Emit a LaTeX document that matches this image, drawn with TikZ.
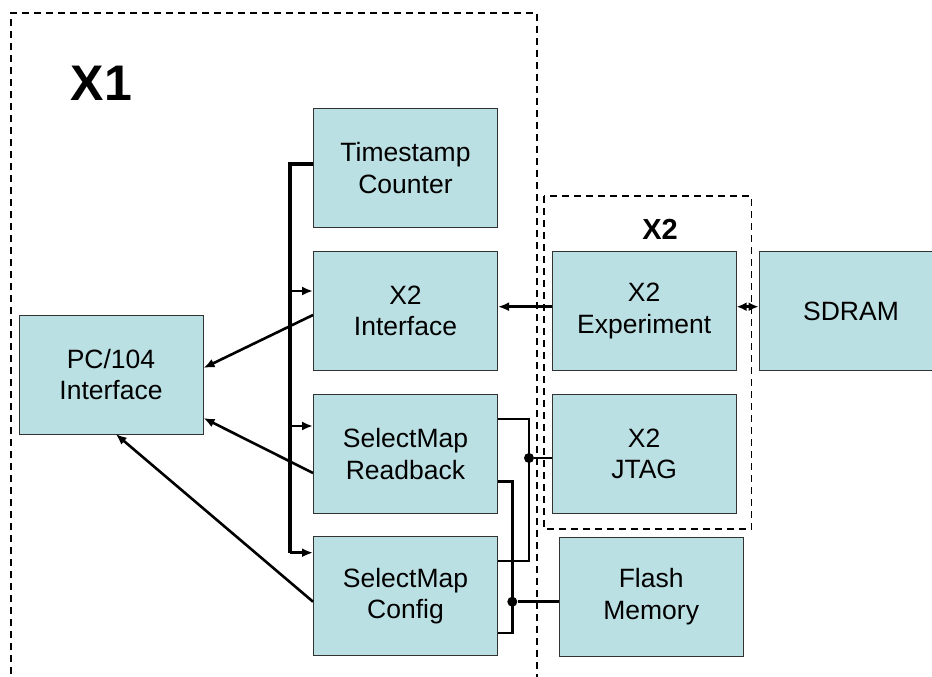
\documentclass[tikz,border=0pt]{standalone}
\usepackage{fontspec}
\setmainfont{Liberation Sans}
\usetikzlibrary{arrows.meta}
\definecolor{boxfill}{RGB}{187,224,227}
\definecolor{boxline}{RGB}{50,50,50}
\tikzset{
  blk/.style={draw=boxline, line width=1pt, fill=boxfill, minimum width=184pt, minimum height=119pt, inner sep=0pt, align=center, font=\fontsize{26.5}{31.5}\selectfont},
  grp/.style={draw=black, line width=1.6pt, dash pattern=on 7pt off 5pt},
  bus/.style={line width=4pt},
  wire/.style={line width=2.6pt},
  arr/.style={wire, -{Latex[length=11pt,width=9pt]}},
  darr/.style={wire, {Latex[length=10pt,width=9pt]}-{Latex[length=10pt,width=9pt]}},
  jdot/.style={circle, fill=black, inner sep=0pt, minimum size=10pt},
  ttl/.style={font=\bfseries\fontsize{50}{56}\selectfont},
  ttlb/.style={font=\bfseries\fontsize{29}{34}\selectfont},
}
\begin{document}
\begin{tikzpicture}[x=1pt,y=-1pt]
\useasboundingbox (0,0) rectangle (932,677);
% group boxes
\draw[grp] (11,710) -- (11,13) -- (537,13) -- (537,710);
\draw[grp] (544,196) rectangle (751.5,529);
\node[ttl] (x1lbl) at (101.5,83) {X1};
\node[ttlb] (x2lbl) at (660,229) {X2};
% blocks
\node[blk] (ts) at (405.5,167.8) {Timestamp\\Counter};
\node[blk] (x2i) at (405.5,311) {X2\\Interface};
\node[blk] (rb) at (405.5,453.8) {SelectMap\\Readback};
\node[blk] (cfg) at (405.5,596.3) {SelectMap\\Config};
\node[blk] (pc) at (111,374.5) {PC/104\\Interface};
\node[blk] (exp) at (644.2,311) {X2\\Experiment};
\node[blk] (jtag) at (644.2,453.8) {X2\\JTAG};
\node[blk] (flash) at (651.2,596.5) {Flash\\Memory};
\node[blk] (sdram) at (851,311) {SDRAM};
% bus
\coordinate (btop) at (290,164);
\coordinate (bbot) at (290,552.7);
\draw[bus] (ts.west |- btop) -- (btop) -- (bbot);
\draw[arr] (290,291) -- (x2i.west |- 0,291);
\draw[arr] (290,426) -- (rb.west |- 0,426);
\draw[arr] (bbot) -- (cfg.west |- bbot);
% to PC/104
\draw[arr] (x2i.west |- 0,315) -- (pc.east |- 0,368);
\draw[arr] (rb.west |- 0,473) -- (pc.east |- 0,418);
\draw[arr] (cfg.west |- 0,601.7) -- (115.7,434);
% X2 experiment
\draw[arr] (exp.west |- 0,306.7) -- (x2i.east |- 0,306.7);
\draw[darr] (exp.east |- 0,306.7) -- (sdram.west |- 0,306.7);
% JTAG wiring
\coordinate (ja) at (529,419);
\coordinate (jb) at (529,561);
\node[jdot] (jj) at (529,458) {};
\draw[wire] (rb.east |- ja) -- (ja) -- (jb) -- (cfg.east |- jb);
\draw[wire] (jj) -- (jtag.west |- jj);
% Flash wiring
\coordinate (fa) at (512.3,481.7);
\coordinate (fb) at (512.3,633);
\node[jdot] (fj) at (512.3,601.7) {};
\draw[wire] (rb.east |- fa) -- (fa) -- (fb) -- (cfg.east |- fb);
\draw[wire] (fj) -- (flash.west |- fj);
\end{tikzpicture}
\end{document}
